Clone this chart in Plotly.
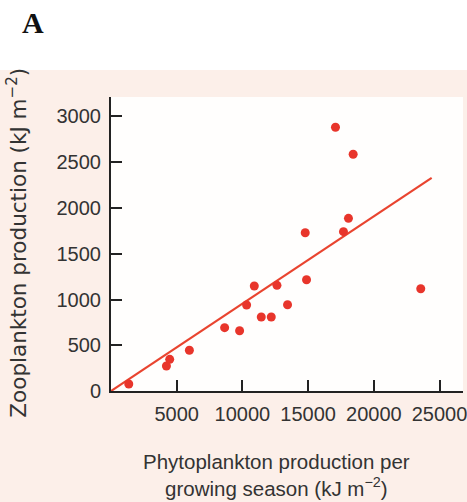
import plotly.graph_objects as go

# Data
phyto = [1353, 4217, 4468, 5965, 8647, 9787, 10319, 10904, 11436, 12196,
         12629, 13435, 14780, 14879, 17082, 18427, 17690, 18070, 23571]
zoo = [77, 273, 346, 445, 692, 659, 940, 1148, 809, 809,
       1155, 943, 1730, 1216, 2882, 2587, 1741, 1887, 1118]
fit_x = [0, 24400]
fit_y = [0, 2330]

x_ticks = [5000, 10000, 15000, 20000, 25000]
x_labels = ["5000", "10000", "15000", "20000", "25000"]
y_ticks = [0, 500, 1000, 1500, 2000, 2500, 3000]
y_labels = ["0", "500", "1000", "1500", "2000", "2500", "3000"]

RED = "#e8352b"
PINK = "#fcefe9"
FONT = "Liberation Sans, Arial, sans-serif"

fig = go.Figure()
fig.add_trace(go.Scatter(x=fit_x, y=fit_y, mode="lines",
                         line=dict(color="#e9442f", width=2.2),
                         hoverinfo="skip", showlegend=False))
fig.add_trace(go.Scatter(x=phyto, y=zoo, mode="markers",
                         marker=dict(color=RED, size=9),
                         showlegend=False))

W, H = 467, 502
L, R, T, B = 110.5, 463, 97, 391
pw, ph = R - L, B - T

def px(xp):
    return (xp - L) / pw

def py(yp):
    return (B - yp) / ph

fig.update_layout(
    width=W, height=H,
    margin=dict(l=L, r=W - R, t=T, b=H - B, autoexpand=False),
    paper_bgcolor=PINK,
    plot_bgcolor="#fffefd",
    font=dict(family=FONT, size=20, color="#333333"),
    xaxis=dict(range=[0, 26786], tickvals=x_ticks, ticktext=x_labels,
               ticks="inside", ticklen=11, tickwidth=2, tickcolor="#222",
               showline=True, linecolor="#222", linewidth=2,
               showgrid=False, zeroline=False, fixedrange=True,
               ticklabelstandoff=4, ticklabeloverflow="allow"),
    yaxis=dict(range=[0, 3213], tickvals=y_ticks, ticktext=y_labels,
               ticks="inside", ticklen=11, tickwidth=2, tickcolor="#222",
               showline=True, linecolor="#222", linewidth=2,
               showgrid=False, zeroline=False, fixedrange=True,
               ticklabelstandoff=4, ticklabeloverflow="allow"),
    shapes=[dict(type="rect", xref="paper", yref="paper",
                 x0=px(-5), x1=px(W + 5), y0=py(70), y1=py(-5),
                 fillcolor="white", line=dict(width=0), layer="below")],
    annotations=[
        dict(text="<b>A</b>", xref="paper", yref="paper", x=px(19), y=py(23),
             xanchor="left", yanchor="middle", showarrow=False,
             font=dict(family="Liberation Serif, Times New Roman, serif", size=30, color="#111")),
        dict(text="Zooplankton production (kJ m<sup>−2</sup>)", xref="paper", yref="paper",
             x=px(16), y=py(243), textangle=-90, xanchor="center", yanchor="middle",
             showarrow=False, font=dict(family="DejaVu Sans, sans-serif", size=21.5, color="#333333")),
        dict(text="Phytoplankton production per<br>growing season (kJ m<sup>−2</sup>)",
             xref="paper", yref="paper", x=px(276), y=py(475),
             xanchor="center", yanchor="middle", showarrow=False,
             font=dict(family=FONT, size=20.5, color="#333333")),
    ],
)

fig.write_html("out.html", config={"displayModeBar": False, "staticPlot": True},
               post_script="document.body.style.margin='0';document.body.style.overflow='hidden';")
